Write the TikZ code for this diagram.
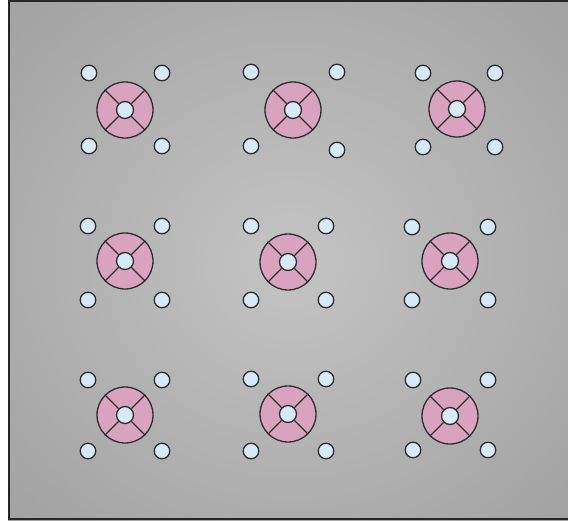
\documentclass[tikz,border=0pt]{standalone}
\definecolor{pinkf}{HTML}{D9A3BF}
\definecolor{bluef}{HTML}{D8E9F6}
\definecolor{edgec}{HTML}{2E2E2E}
\definecolor{bgc0}{HTML}{C4C4C4}
\definecolor{bgc1}{HTML}{939393}
\definecolor{bgc2}{HTML}{6E6E6E}
\pgfdeclareradialshading{bgshade}{\pgfpoint{0bp}{0bp}}{color(0bp)=(bgc0);color(50bp)=(bgc1);color(72bp)=(bgc2)}
\tikzset{
  pinkc/.style={circle,draw=edgec,line width=1.3pt,fill=pinkf,minimum size=56pt,inner sep=0pt},
  hub/.style={circle,draw=edgec,line width=1.3pt,fill=bluef,minimum size=17pt,inner sep=0pt},
  pin/.style={circle,draw=edgec,line width=1.3pt,fill=bluef,minimum size=15.5pt,inner sep=0pt},
  spoke/.style={draw=edgec,line width=1.2pt}
}
\newcommand\gunit[7]{%
  \node[pinkc] (#1) at (#2,#3) {};
  \node[hub] (#1h) at (#2,#3) {};
  \foreach \a in {45,135,225,315} \draw[spoke] (#1h.\a) -- (#1.\a);
  \node[pin] (#1tl) at (#4) {};
  \node[pin] (#1tr) at (#5) {};
  \node[pin] (#1bl) at (#6) {};
  \node[pin] (#1br) at (#7) {};
}
\begin{document}
\begin{tikzpicture}[x=1pt,y=-1pt]
\useasboundingbox (0,0) rectangle (568,520);
\begin{scope}
\clip (0,0) rectangle (568,520);
\shade[shading=bgshade] (8,0) rectangle (574,520);
\draw[line width=2pt,draw=black!85] (9,1) rectangle (578,519);
\end{scope}
\gunit{ua}{125}{110}{89,73}{162,73}{89,146}{162,146}
\gunit{ub}{293}{110}{251,72}{337,72}{251,146}{337,150}
\gunit{uc}{457}{109}{423,73}{495,73}{423,147}{495,147}
\gunit{ud}{125}{261}{88,226}{162,226}{88,300}{162,300}
\gunit{ue}{288}{262}{251,226}{326,226}{251,300}{326,300}
\gunit{uf}{450}{261}{412,227}{488,227}{412,300}{488,300}
\gunit{ug}{125}{415}{88,380}{162,380}{88,451}{162,451}
\gunit{uh}{288}{414}{251,379}{326,379}{251,451}{326,451}
\gunit{ui}{450}{416}{413,380}{488,380}{413,450}{488,450}
\end{tikzpicture}
\end{document}
